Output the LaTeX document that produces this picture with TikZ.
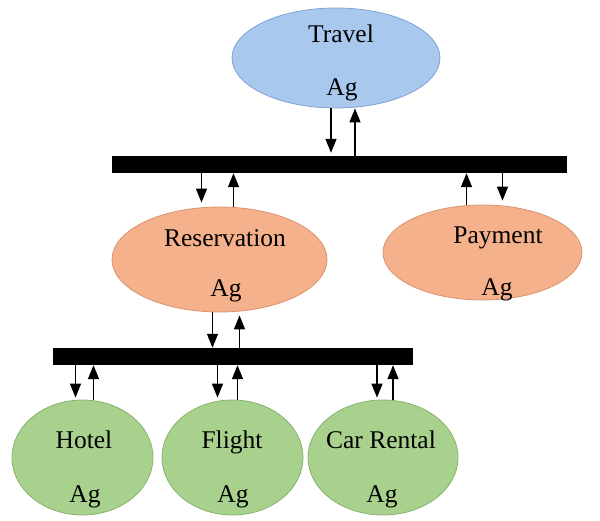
\documentclass[tikz,border=0pt]{standalone}
\usepackage{fontspec}
\setmainfont{Liberation Serif}
\usetikzlibrary{shapes.geometric,arrows.meta}
\definecolor{blueFill}{HTML}{A9C8EE}
\definecolor{blueLine}{HTML}{7FA3D2}
\definecolor{orangeFill}{HTML}{F5B08C}
\definecolor{orangeLine}{HTML}{D99371}
\definecolor{greenFill}{HTML}{A9D18E}
\definecolor{greenLine}{HTML}{88B26E}
\begin{document}
\begin{tikzpicture}[x=1pt,y=-1pt,
  agent/.style={ellipse,inner sep=0pt,line width=0.8pt},
  toplevel/.style={agent,fill=blueFill,draw=blueLine},
  midlevel/.style={agent,fill=orangeFill,draw=orangeLine},
  leaf/.style={agent,fill=greenFill,draw=greenLine},
  lbl/.style={anchor=base,inner sep=0pt,font=\fontsize{25.5}{28}\selectfont},
  busbar/.style={rectangle,fill=black,inner sep=0pt},
  arr/.style={-{Triangle[length=14pt,width=11pt]},line width=1.4pt}]
\useasboundingbox (0,0) rectangle (600,521);

% agents
\node[toplevel,minimum width=208pt,minimum height=100pt] (travel) at (336,58) {};
\node[midlevel,minimum width=215pt,minimum height=105pt] (res) at (219.5,259.5) {};
\node[midlevel,minimum width=199pt,minimum height=95pt] (pay) at (482.5,252.5) {};
\node[leaf,minimum width=141pt,minimum height=115pt] (hotel) at (82.5,457.5) {};
\node[leaf,minimum width=141pt,minimum height=115pt] (flight) at (232.5,457.5) {};
\node[leaf,minimum width=150pt,minimum height=115pt] (car) at (383,457.5) {};

% labels
\node[lbl] (travelT) at (341,43) {Travel};
\node[lbl] (travelA) at (342,96) {Ag};
\node[lbl] (resT) at (225,247) {Reservation};
\node[lbl] (resA) at (226,297) {Ag};
\node[lbl] (payT) at (498,244) {Payment};
\node[lbl] (payA) at (497,296) {Ag};
\node[lbl] (hotelT) at (84,448) {Hotel};
\node[lbl] (hotelA) at (85,502) {Ag};
\node[lbl] (flightT) at (232,448) {Flight};
\node[lbl] (flightA) at (233,502) {Ag};
\node[lbl] (carT) at (381,448) {Car Rental};
\node[lbl] (carA) at (382,502) {Ag};

% communication buses
\node[busbar,minimum width=455pt,minimum height=17pt] (bus1) at (339.5,164.5) {};
\node[busbar,minimum width=360pt,minimum height=17pt] (bus2) at (233,356.5) {};

% travel <-> bus1
\draw[arr,shorten >=3pt] ([xshift=-5pt]travel.south) -- ([xshift=-5pt]travel.south |- bus1.north);
\draw[arr] ([xshift=19pt]travel.south |- bus1.north) -- ([xshift=19pt]travel.south);

% bus1 <-> reservation
\draw[arr,shorten >=4pt] ([xshift=-18pt]res.north |- bus1.south) -- ([xshift=-18pt]res.north);
\draw[arr] ([xshift=14pt]res.north) -- ([xshift=14pt]res.north |- bus1.south);

% bus1 <-> payment
\draw[arr] ([xshift=-16pt]pay.north) -- ([xshift=-16pt]pay.north |- bus1.south);
\draw[arr,shorten >=4pt] ([xshift=20pt]pay.north |- bus1.south) -- ([xshift=20pt]pay.north);

% reservation <-> bus2
\draw[arr] ([xshift=-7pt]res.south) -- ([xshift=-7pt]res.south |- bus2.north);
\draw[arr,shorten >=3pt] ([xshift=20pt]res.south |- bus2.north) -- ([xshift=20pt]res.south);

% bus2 <-> service agents
\draw[arr,shorten >=2pt] ([xshift=-7pt]hotel.north |- bus2.south) -- ([xshift=-7pt]hotel.north);
\draw[arr] ([xshift=11pt]hotel.north) -- ([xshift=11pt]hotel.north |- bus2.south);
\draw[arr,shorten >=2pt] ([xshift=-15pt]flight.north |- bus2.south) -- ([xshift=-15pt]flight.north);
\draw[arr] ([xshift=5pt]flight.north) -- ([xshift=5pt]flight.north |- bus2.south);
\draw[arr,shorten >=2pt] ([xshift=-6pt]car.north |- bus2.south) -- ([xshift=-6pt]car.north);
\draw[arr] ([xshift=10pt]car.north) -- ([xshift=10pt]car.north |- bus2.south);
\end{tikzpicture}
\end{document}
